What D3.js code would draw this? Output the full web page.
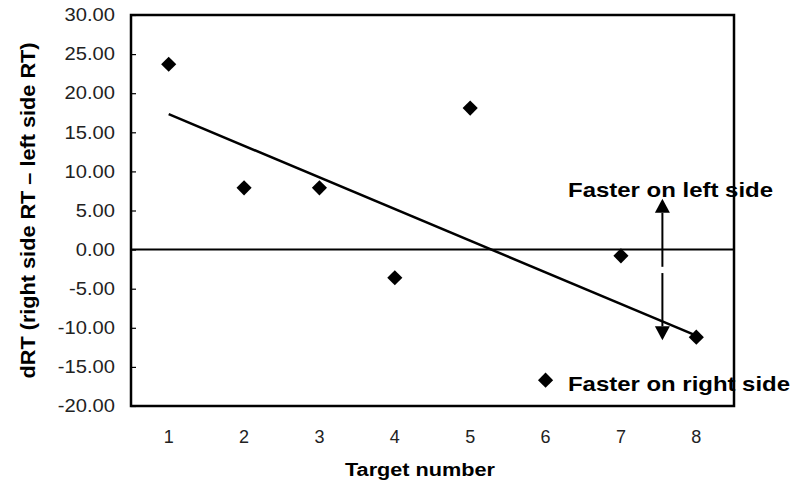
<!DOCTYPE html>
<html>
<head>
<meta charset="utf-8">
<script src="https://cdn.jsdelivr.net/npm/d3@7"></script>
<style>
  html, body { margin: 0; padding: 0; background: #fff; }
  svg { display: block; }
</style>
</head>
<body>
<svg id="chart" width="793" height="484"></svg>
<script>
// Target numbers and the reaction-time difference for each
const targets = ["1", "2", "3", "4", "5", "6", "7", "8"];
const dRT = [23.7, 7.9, 7.9, -3.6, 18.1, -16.7, -0.8, -11.2];
const yTicks = [-20, -15, -10, -5, 0, 5, 10, 15, 20, 25, 30];
// Double-headed arrow: position between targets 7 and 8, spanning these values
const arrowAt = [7.55];
const arrowSpan = [6.5, -11.6];

const svg = d3.select("#chart");
const margin = { left: 131, right: 59, top: 15, bottom: 78 };
const W = 793, H = 484;
const x0 = margin.left, x1 = W - margin.right;
const y0 = margin.top, y1 = H - margin.bottom;

const x = d3.scaleBand().domain(targets).range([x0, x1]);
const step = x.step();
const cx = t => x(t) + step / 2;
// continuous position for target number n (1-based)
const xn = n => x0 + (n - 0.5) * step;
const y = d3.scaleLinear().domain([-20, 30]).range([y1, y0]);

const FONT = "'Liberation Sans', Arial, sans-serif";

// Y axis: labels left of the frame, short ticks inside
const yAxis = d3.axisLeft(y).tickValues(yTicks).tickFormat(d => d.toFixed(2))
  .tickSizeInner(-5).tickSizeOuter(0).tickPadding(17);
const gy = svg.append("g").attr("transform", `translate(${x0},0)`).call(yAxis);
gy.select(".domain").remove();
gy.selectAll(".tick line").attr("stroke", "#000").attr("stroke-width", 1.2);
gy.selectAll(".tick text")
  .attr("font-family", FONT).attr("font-size", 18).attr("fill", "#222")
  .attr("transform", "scale(1.12,1)")
  .attr("x", -16 / 1.12);

// X axis: labels only
const xAxis = d3.axisBottom(x).tickSize(0).tickPadding(24);
const gx = svg.append("g").attr("transform", `translate(0,${y1})`).call(xAxis);
gx.select(".domain").remove();
gx.selectAll(".tick text")
  .attr("font-family", FONT).attr("font-size", 18).attr("fill", "#222");

// Plot frame
svg.append("rect")
  .attr("x", x0).attr("y", y0).attr("width", x1 - x0).attr("height", y1 - y0)
  .attr("fill", "none").attr("stroke", "#000").attr("stroke-width", 2.5);

// Zero line
svg.append("line")
  .attr("x1", x0).attr("x2", x1).attr("y1", y(0)).attr("y2", y(0))
  .attr("stroke", "#000").attr("stroke-width", 2);

// Least-squares trend line through the points
const xs = targets.map(Number);
const mx = d3.mean(xs), my = d3.mean(dRT);
const slope = d3.sum(xs, (v, i) => (v - mx) * (dRT[i] - my)) / d3.sum(xs, v => (v - mx) ** 2);
const icpt = my - slope * mx;
svg.append("line")
  .attr("x1", xn(xs[0])).attr("y1", y(icpt + slope * xs[0]))
  .attr("x2", xn(xs[xs.length - 1])).attr("y2", y(icpt + slope * xs[xs.length - 1]))
  .attr("stroke", "#000").attr("stroke-width", 2.5);

// Diamond markers
const diamond = d3.symbol().type(d3.symbolSquare).size(115);
svg.append("g").selectAll("path")
  .data(dRT)
  .join("path")
  .attr("d", diamond)
  .attr("transform", (d, i) => `translate(${cx(targets[i])},${y(d)}) rotate(45)`)
  .attr("fill", "#000");

// Double-headed arrow
const ax = xn(arrowAt[0]);
const yTop = y(arrowSpan[0]), yBot = y(arrowSpan[1]);
const head = 14, half = 7.5;
const yGap = y(-2.2), yGap2 = y(-3.0);
svg.append("line").attr("x1", ax).attr("x2", ax).attr("y1", yTop + head).attr("y2", yGap)
  .attr("stroke", "#000").attr("stroke-width", 2);
svg.append("line").attr("x1", ax).attr("x2", ax).attr("y1", yGap2).attr("y2", yBot - head)
  .attr("stroke", "#000").attr("stroke-width", 2);
svg.append("path")
  .attr("d", `M${ax},${yTop} L${ax - half},${yTop + head} L${ax + half},${yTop + head} Z`)
  .attr("fill", "#000");
svg.append("path")
  .attr("d", `M${ax},${yBot} L${ax - half},${yBot - head} L${ax + half},${yBot - head} Z`)
  .attr("fill", "#000");

// Annotations
svg.append("text")
  .attr("x", 568).attr("y", 197)
  .attr("font-family", FONT).attr("font-weight", "bold").attr("font-size", 21)
  .attr("textLength", 205).attr("lengthAdjust", "spacingAndGlyphs")
  .text("Faster on left side");
svg.append("text")
  .attr("x", 568).attr("y", 391)
  .attr("font-family", FONT).attr("font-weight", "bold").attr("font-size", 21)
  .attr("textLength", 222).attr("lengthAdjust", "spacingAndGlyphs")
  .text("Faster on right side");

// Axis titles
svg.append("text")
  .attr("transform", `translate(35,${(y0 + y1) / 2}) rotate(-90)`)
  .attr("text-anchor", "middle")
  .attr("font-family", FONT).attr("font-weight", "bold").attr("font-size", 21)
  .attr("textLength", 336).attr("lengthAdjust", "spacingAndGlyphs")
  .text("dRT (right side RT \u2013 left side RT)");
svg.append("text")
  .attr("x", 420).attr("y", 476)
  .attr("text-anchor", "middle")
  .attr("font-family", FONT).attr("font-weight", "bold").attr("font-size", 18)
  .attr("textLength", 150).attr("lengthAdjust", "spacingAndGlyphs")
  .text("Target number");
</script>
</body>
</html>
